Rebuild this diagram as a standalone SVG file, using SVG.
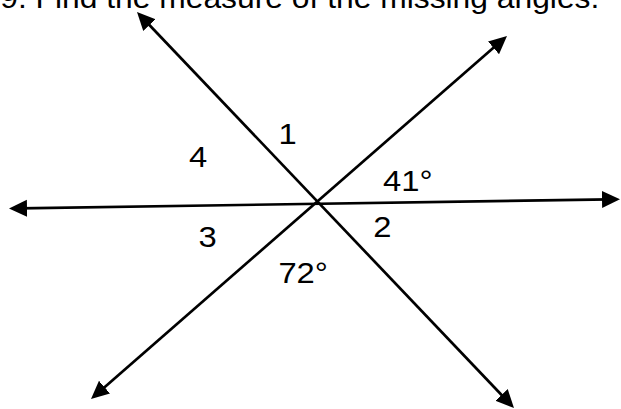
<svg xmlns="http://www.w3.org/2000/svg" width="621" height="409" viewBox="0 0 621 409">
  <style>
    .ln { stroke: #000; stroke-width: 2.7; fill: none; marker-start: url(#ah); marker-end: url(#ah); }
    .t { font-family: "Liberation Sans", Arial, sans-serif; font-size: 29px; fill: #000; }
    .ttl { font-family: "Liberation Sans", Arial, sans-serif; font-size: 29px; fill: #000; }
  </style>
  <defs>
    <marker id="ah" markerUnits="userSpaceOnUse" viewBox="0 0 18 18" markerWidth="18" markerHeight="18" refX="8" refY="9" orient="auto-start-reverse">
      <path d="M0,0.5 L18,9 L0,17.5 Z" fill="#000"/>
    </marker>
  </defs>
  <rect width="621" height="409" fill="#fff"/>

  <g id="title">
    <text class="ttl" transform="translate(0.2,8) scale(1.097 1)">9. Find the measure of the missing angles.</text>
  </g>

  <g id="connectors">
    <path class="ln" d="M19,208.35 L610,199.35"/>
    <path class="ln" d="M143.9,19.24 L507.1,400.76"/>
    <path class="ln" d="M499.46,42.57 L98.53,392.43"/>
  </g>

  <g id="label-1"><text class="t" transform="translate(278.4,144) scale(1.13 1)">1</text></g>
  <g id="label-4"><text class="t" transform="translate(189,166.7) scale(1.13 1)">4</text></g>
  <g id="label-41"><text class="t" transform="translate(383,191) scale(1.13 1)">41°</text></g>
  <g id="label-3"><text class="t" transform="translate(198.6,246.5) scale(1.13 1)">3</text></g>
  <g id="label-2"><text class="t" transform="translate(373.3,236.5) scale(1.13 1)">2</text></g>
  <g id="label-72"><text class="t" transform="translate(278.4,283) scale(1.13 1)">72°</text></g>
</svg>
